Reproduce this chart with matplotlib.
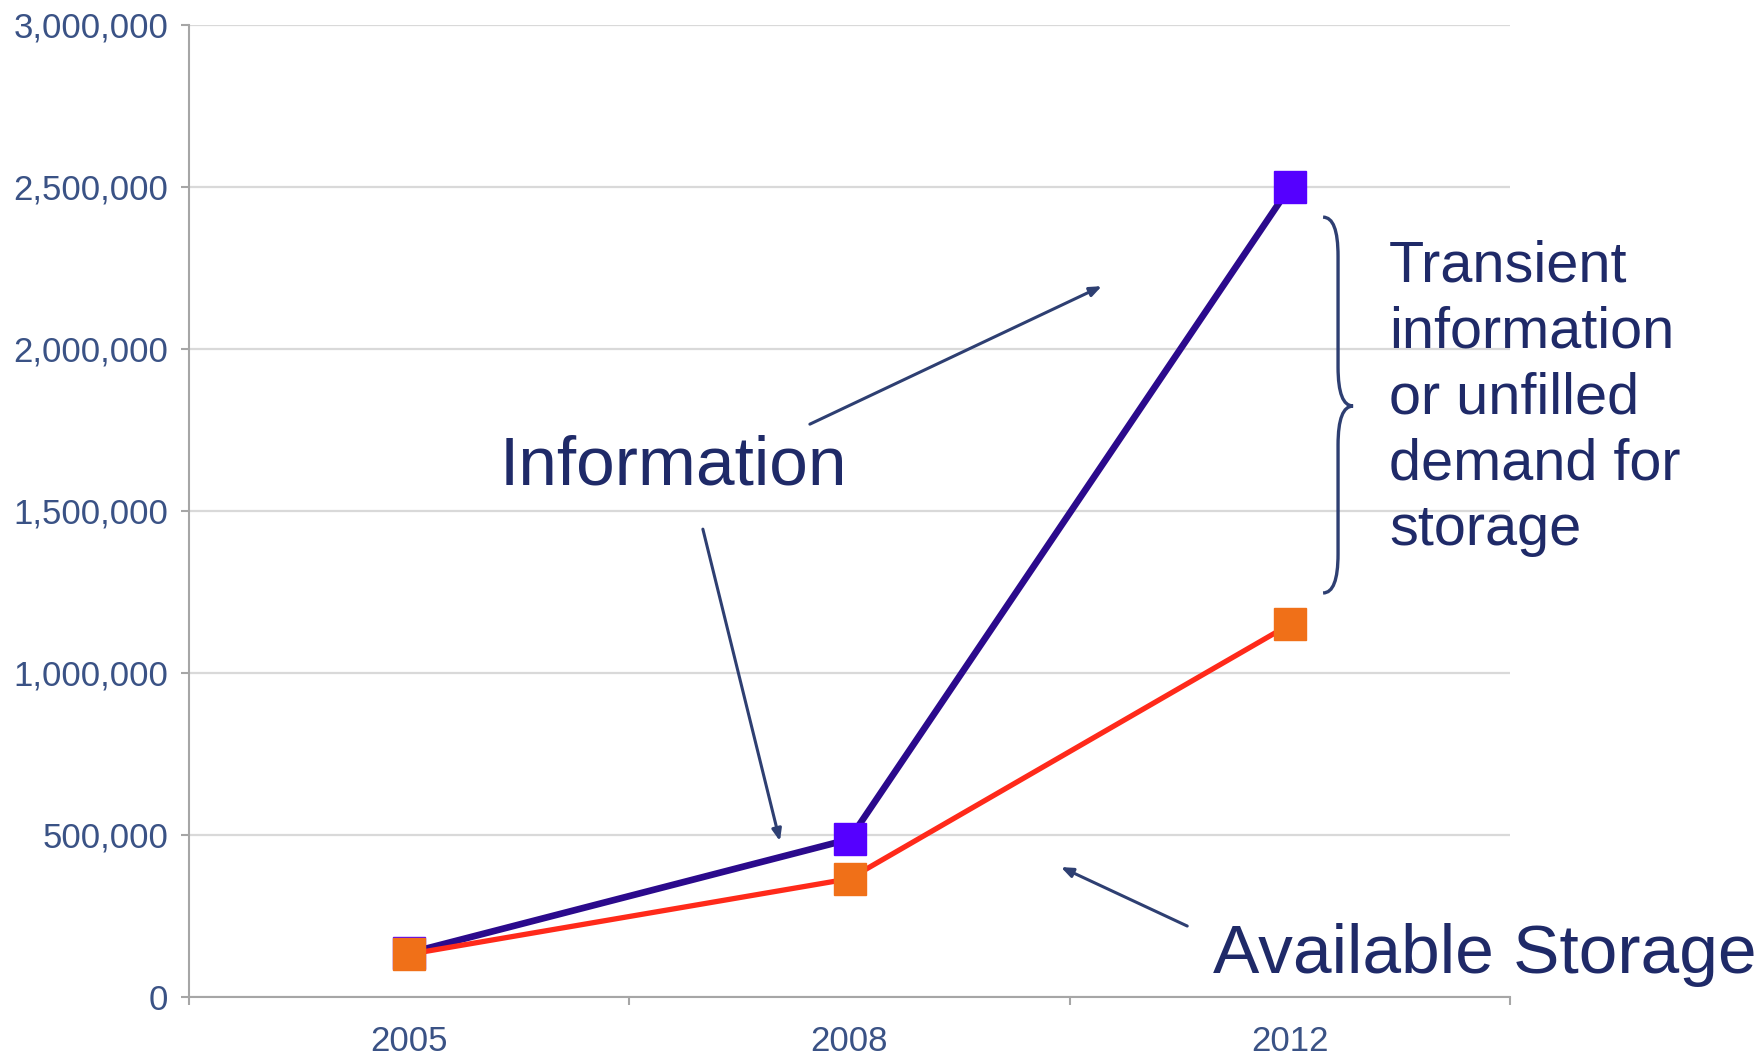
import matplotlib
matplotlib.use("Agg")
import matplotlib.pyplot as plt
from matplotlib.path import Path
from matplotlib.patches import PathPatch

plt.rcParams['font.family'] = ['Liberation Sans', 'DejaVu Sans']

# ---- data ----
years = ["2005", "2008", "2012"]
information = [136000, 487000, 2500000]
available_storage = [132000, 365000, 1150000]
y_ticks = [0, 500000, 1000000, 1500000, 2000000, 2500000, 3000000]
y_tick_labels = ["0", "500,000", "1,000,000", "1,500,000", "2,000,000", "2,500,000", "3,000,000"]
note_lines = ["Transient", "information", "or unfilled", "demand for", "storage"]

TEXT = "#1f2a68"
TICK = "#3a5285"

fig = plt.figure(figsize=(17.62, 10.56), dpi=100)
fig.patch.set_facecolor("white")
ax = fig.add_axes([189/1762, 1-997/1056, (1510-189)/1762, (997-25)/1056])

x = list(range(len(years)))
ax.plot(x, information, color="#2b0a8c", lw=4.8, marker="s", ms=23,
        mfc="#5500ff", mec="#5500ff", zorder=3)
ax.plot(x, available_storage, color="#ff2a1a", lw=3.8, marker="s", ms=23,
        mfc="#f07018", mec="#f07018", zorder=4)

ax.set_xlim(-0.5, 2.5)
ax.set_ylim(0, 3000000)
ax.set_yticks(y_ticks)
ax.set_yticklabels(y_tick_labels)
ax.set_xticks(x)
ax.set_xticklabels(years)
ax.set_xticks([-0.5, 0.5, 1.5, 2.5], minor=True)

ax.tick_params(axis="y", length=6, width=1.5, color="#a6a6a6", labelsize=25,
               labelcolor=TICK, pad=9)
ax.tick_params(axis="x", which="major", length=0, labelsize=25, labelcolor=TICK, pad=20)
ax.tick_params(axis="x", which="minor", length=6, width=1.5, color="#a6a6a6")

ax.grid(axis="y", color="#d9d9d9", lw=1.6, zorder=0)
ax.set_axisbelow(True)
for s in ["top", "right"]:
    ax.spines[s].set_visible(False)
for s in ["left", "bottom"]:
    ax.spines[s].set_color("#a6a6a6")
    ax.spines[s].set_linewidth(1.5)

# annotation texts
ax.text(0.599, 1583000, "Information", fontsize=50, color=TEXT, ha="center", va="baseline")
ax.text(1.8256, 74000, "Available Storage", fontsize=50, color=TEXT, ha="left", va="baseline",
        clip_on=False)

x_note = (1389-189)/440.33 - 0.5
for i, line in enumerate(note_lines):
    py = 281 + i*66
    ax.text(x_note, (997-py)*3086.4, line, fontsize=41.5, color=TEXT, ha="left",
            va="baseline", clip_on=False)

# arrows
arrow_kw = dict(arrowstyle="-|>,head_length=0.7,head_width=0.28", color="#2e3f72", lw=2.2,
                shrinkA=0, shrinkB=0)
ax.annotate("", xy=(1.573, 2194000), xytext=(0.910, 1768000), arrowprops=arrow_kw)
ax.annotate("", xy=(0.842, 481000), xytext=(0.667, 1444000), arrowprops=arrow_kw)
ax.annotate("", xy=(1.480, 401000), xytext=(1.767, 219000), arrowprops=arrow_kw)

# brace
x0, x1, x2 = 2.0755, 2.1095, 2.1436
ytop, ymid, ybot = 2407000, 1824000, 1247000
r = 120000
verts = [(x0, ytop), (x1, ytop), (x1, ytop - r),
         (x1, ymid + r), (x1, ymid), (x2, ymid),
         (x1, ymid), (x1, ymid - r),
         (x1, ybot + r), (x1, ybot), (x0, ybot)]
codes = [Path.MOVETO, Path.CURVE3, Path.CURVE3,
         Path.LINETO, Path.CURVE3, Path.CURVE3,
         Path.CURVE3, Path.CURVE3,
         Path.LINETO, Path.CURVE3, Path.CURVE3]
ax.add_patch(PathPatch(Path(verts, codes), fill=False, edgecolor="#2e3f72", lw=2.4,
                       clip_on=False, zorder=5))

fig.savefig("out.png", dpi=100, facecolor="white")
